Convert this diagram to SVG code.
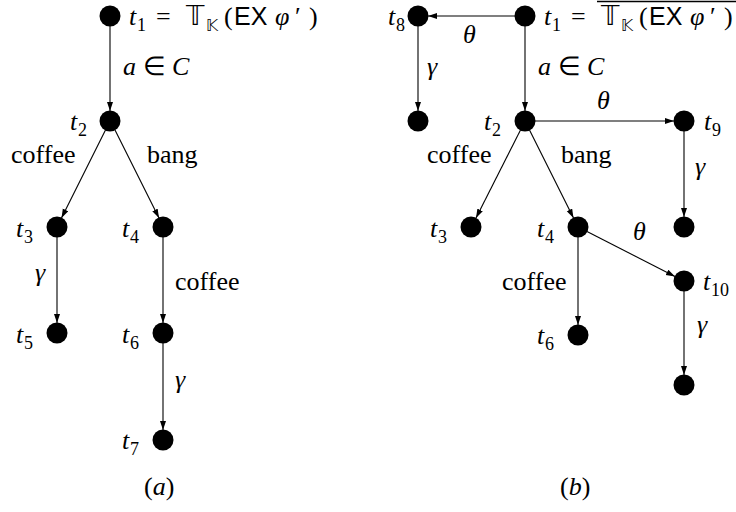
<svg xmlns="http://www.w3.org/2000/svg" width="736" height="512" viewBox="0 0 736 512">
<defs>
<marker id="ah" markerWidth="9" markerHeight="7" refX="9" refY="3" orient="auto" markerUnits="userSpaceOnUse">
<path d="M0,0 L9,3 L0,6 Z" fill="#000"/>
</marker>
<style>
.n{fill:#000}
.e{stroke:#000;stroke-width:1.1;fill:none;marker-end:url(#ah)}
</style>
</defs>
<rect width="736" height="512" fill="#fff"/>
<g id="connectors">
<line class="e" x1="110" y1="26" x2="110" y2="111"/>
<line class="e" x1="105.5" y1="130" x2="61.5" y2="218"/>
<line class="e" x1="115" y1="130" x2="159" y2="218"/>
<line class="e" x1="57" y1="237" x2="57" y2="323"/>
<line class="e" x1="163" y1="237" x2="163" y2="323"/>
<line class="e" x1="163" y1="343" x2="163" y2="430"/>
<line class="e" x1="515" y1="16" x2="428" y2="16"/>
<line class="e" x1="418" y1="26" x2="418" y2="111"/>
<line class="e" x1="525" y1="26" x2="525" y2="111"/>
<line class="e" x1="535" y1="121" x2="674" y2="121"/>
<line class="e" x1="520.5" y1="130" x2="476" y2="218"/>
<line class="e" x1="529.5" y1="130" x2="573.5" y2="218"/>
<line class="e" x1="684" y1="131" x2="684" y2="217"/>
<line class="e" x1="587" y1="231.5" x2="675" y2="276.5"/>
<line class="e" x1="578" y1="237" x2="578" y2="325"/>
<line class="e" x1="684" y1="291" x2="684" y2="375"/>
</g>
<g font-size="26">
<g id="a_t1"><circle class="n" cx="110" cy="16" r="10.5"/>
<text font-family="Liberation Serif" y="25"><tspan font-style="italic" x="129">t</tspan><tspan font-size="18" x="137" y="31">1</tspan><tspan x="156" y="25">=</tspan><tspan font-family="DejaVu Sans" x="186" y="25">&#x1D54B;</tspan><tspan font-family="DejaVu Sans" x="206" y="31" font-size="16">&#x1D542;</tspan><tspan x="224" y="25">(</tspan><tspan font-size="25" font-family="Liberation Sans" x="234" y="25">EX</tspan><tspan font-style="italic" x="275" y="25">&#x3C6;</tspan><tspan x="295" y="25">&#x2032;</tspan><tspan x="309" y="25">)</tspan></text></g>
<g id="a_t2"><circle class="n" cx="110" cy="121" r="10.5"/><text font-family="Liberation Serif" y="130"><tspan font-style="italic" x="70">t</tspan><tspan font-size="18" x="78" y="136">2</tspan></text></g>
<g id="a_t3"><circle class="n" cx="57" cy="227" r="10.5"/><text font-family="Liberation Serif" y="237"><tspan font-style="italic" x="16">t</tspan><tspan font-size="18" x="24" y="243">3</tspan></text></g>
<g id="a_t4"><circle class="n" cx="163" cy="227" r="10.5"/><text font-family="Liberation Serif" y="237"><tspan font-style="italic" x="122">t</tspan><tspan font-size="18" x="130" y="243">4</tspan></text></g>
<g id="a_t5"><circle class="n" cx="57" cy="333" r="10.5"/><text font-family="Liberation Serif" y="343"><tspan font-style="italic" x="16">t</tspan><tspan font-size="18" x="24" y="349">5</tspan></text></g>
<g id="a_t6"><circle class="n" cx="163" cy="333" r="10.5"/><text font-family="Liberation Serif" y="343"><tspan font-style="italic" x="122">t</tspan><tspan font-size="18" x="130" y="349">6</tspan></text></g>
<g id="a_t7"><circle class="n" cx="163" cy="440" r="10.5"/><text font-family="Liberation Serif" y="449"><tspan font-style="italic" x="122">t</tspan><tspan font-size="18" x="130" y="455">7</tspan></text></g>
<g id="a_labels">
<text font-family="Liberation Serif" font-style="italic" x="123" y="75">a <tspan font-style="normal">&#x2208;</tspan> C</text>
<text font-family="Liberation Serif" x="11" y="163">coffee</text>
<text font-family="Liberation Serif" x="147" y="163">bang</text>
<text font-family="Liberation Serif" font-style="italic" x="35" y="281">&#x3B3;</text>
<text font-family="Liberation Serif" x="175" y="290">coffee</text>
<text font-family="Liberation Serif" font-style="italic" x="175" y="388">&#x3B3;</text>
<text font-family="Liberation Serif" x="144" y="495">(<tspan font-style="italic">a</tspan>)</text>
</g>
<g id="b_t8"><circle class="n" cx="418" cy="16" r="10.5"/><text font-family="Liberation Serif" y="25"><tspan font-style="italic" x="388">t</tspan><tspan font-size="18" x="396" y="31">8</tspan></text></g>
<g id="b_t1"><circle class="n" cx="525" cy="16" r="10.5"/>
<text font-family="Liberation Serif" y="25"><tspan font-style="italic" x="544">t</tspan><tspan font-size="18" x="552" y="31">1</tspan><tspan x="571" y="25">=</tspan><tspan font-family="DejaVu Sans" x="601" y="25">&#x1D54B;</tspan><tspan font-family="DejaVu Sans" x="621" y="31" font-size="16">&#x1D542;</tspan><tspan x="639" y="25">(</tspan><tspan font-size="25" font-family="Liberation Sans" x="649" y="25">EX</tspan><tspan font-style="italic" x="690" y="25">&#x3C6;</tspan><tspan x="710" y="25">&#x2032;</tspan><tspan x="724" y="25">)</tspan></text>
<line x1="597" y1="1.5" x2="736" y2="1.5" stroke="#000" stroke-width="1.3"/></g>
<g id="b_t8c"><circle class="n" cx="418" cy="121" r="10.5"/></g>
<g id="b_t2"><circle class="n" cx="525" cy="121" r="10.5"/><text font-family="Liberation Serif" y="130"><tspan font-style="italic" x="484">t</tspan><tspan font-size="18" x="492" y="136">2</tspan></text></g>
<g id="b_t9"><circle class="n" cx="684" cy="121" r="10.5"/><text font-family="Liberation Serif" y="130"><tspan font-style="italic" x="704">t</tspan><tspan font-size="18" x="712" y="136">9</tspan></text></g>
<g id="b_t3"><circle class="n" cx="471" cy="227" r="10.5"/><text font-family="Liberation Serif" y="237"><tspan font-style="italic" x="430">t</tspan><tspan font-size="18" x="438" y="243">3</tspan></text></g>
<g id="b_t4"><circle class="n" cx="578" cy="227" r="10.5"/><text font-family="Liberation Serif" y="237"><tspan font-style="italic" x="537">t</tspan><tspan font-size="18" x="545" y="243">4</tspan></text></g>
<g id="b_t9c"><circle class="n" cx="684" cy="227" r="10.5"/></g>
<g id="b_t10"><circle class="n" cx="684" cy="281" r="10.5"/><text font-family="Liberation Serif" y="290"><tspan font-style="italic" x="703">t</tspan><tspan font-size="18" x="711" y="296">10</tspan></text></g>
<g id="b_t6"><circle class="n" cx="578" cy="335" r="10.5"/><text font-family="Liberation Serif" y="344"><tspan font-style="italic" x="537">t</tspan><tspan font-size="18" x="545" y="350">6</tspan></text></g>
<g id="b_t10c"><circle class="n" cx="684" cy="385" r="10.5"/></g>
<g id="b_labels">
<text font-family="Liberation Serif" font-style="italic" x="463" y="43">&#x3B8;</text>
<text font-family="Liberation Serif" font-style="italic" x="427" y="75">&#x3B3;</text>
<text font-family="Liberation Serif" font-style="italic" x="538" y="75">a <tspan font-style="normal">&#x2208;</tspan> C</text>
<text font-family="Liberation Serif" font-style="italic" x="597" y="109">&#x3B8;</text>
<text font-family="Liberation Serif" x="427" y="163">coffee</text>
<text font-family="Liberation Serif" x="561" y="163">bang</text>
<text font-family="Liberation Serif" font-style="italic" x="695" y="175">&#x3B3;</text>
<text font-family="Liberation Serif" font-style="italic" x="633" y="240">&#x3B8;</text>
<text font-family="Liberation Serif" x="502" y="290">coffee</text>
<text font-family="Liberation Serif" font-style="italic" x="697" y="333">&#x3B3;</text>
<text font-family="Liberation Serif" x="560" y="495">(<tspan font-style="italic">b</tspan>)</text>
</g>
</g>
</svg>
